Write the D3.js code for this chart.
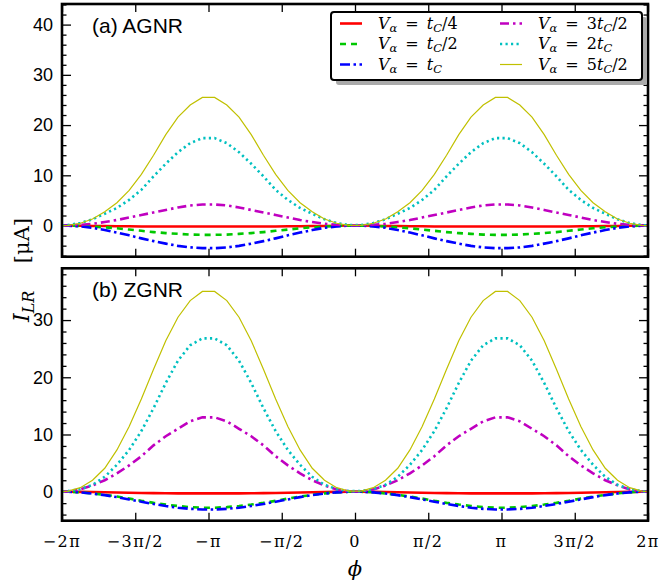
<!DOCTYPE html>
<html>
<head>
<meta charset="utf-8">
<script src="https://cdn.jsdelivr.net/npm/d3@7"></script>
<style>
  body { margin: 0; background: #fff; }
  svg { display: block; }
</style>
</head>
<body>
<div id="chart"></div>
<script>
// phase grid, in units of pi/24
var phiGrid = [-48,
  -47, -45, -43, -41, -39, -37, -35, -33, -31, -29, -27, -25,
  -23, -21, -19, -17, -15, -13, -11, -9, -7, -5, -3, -1,
  1, 3, 5, 7, 9, 11, 13, 15, 17, 19, 21, 23,
  25, 27, 29, 31, 33, 35, 37, 39, 41, 43, 45, 47,
  48];

var xTickValues = [-2, -1.5, -1, -0.5, 0, 0.5, 1, 1.5, 2];
var xTickLabels = ["\u22122\u03c0", "\u22123\u03c0/2", "\u2212\u03c0", "\u2212\u03c0/2", "0", "\u03c0/2", "\u03c0", "3\u03c0/2", "2\u03c0"];
var yTicksA = [0, 10, 20, 30, 40];
var yTicksB = [0, 10, 20, 30];

var seriesCoef = ["", "", "", "3", "2", "5"];
var seriesDen = ["/4", "/2", "", "/2", "", "/2"];

// (a) AGNR, I_LR in uA
var agnrQuarter = [0,
  0, -0.05, -0.1, -0.1, -0.15, -0.15, -0.2, -0.2, -0.2, -0.2, -0.2, -0.2,
  -0.2, -0.2, -0.2, -0.2, -0.2, -0.2, -0.15, -0.15, -0.1, -0.1, -0.05, 0,
  0, -0.05, -0.1, -0.1, -0.15, -0.15, -0.2, -0.2, -0.2, -0.2, -0.2, -0.2,
  -0.2, -0.2, -0.2, -0.2, -0.2, -0.2, -0.15, -0.15, -0.1, -0.1, -0.05, 0,
  0];
var agnrHalf = [0,
  -0.01, -0.07, -0.2, -0.35, -0.55, -0.8, -1.05, -1.3, -1.5, -1.65, -1.8, -1.85,
  -1.85, -1.8, -1.65, -1.5, -1.3, -1.05, -0.8, -0.55, -0.35, -0.2, -0.07, -0.01,
  -0.01, -0.07, -0.2, -0.35, -0.55, -0.8, -1.05, -1.3, -1.5, -1.65, -1.8, -1.85,
  -1.85, -1.8, -1.65, -1.5, -1.3, -1.05, -0.8, -0.55, -0.35, -0.2, -0.07, -0.01,
  0];
var agnrOne = [0,
  -0.02, -0.17, -0.45, -0.9, -1.4, -1.95, -2.55, -3.1, -3.6, -4.05, -4.35, -4.5,
  -4.5, -4.35, -4.05, -3.6, -3.1, -2.55, -1.95, -1.4, -0.9, -0.45, -0.17, -0.02,
  -0.02, -0.17, -0.45, -0.9, -1.4, -1.95, -2.55, -3.1, -3.6, -4.05, -4.35, -4.5,
  -4.5, -4.35, -4.05, -3.6, -3.1, -2.55, -1.95, -1.4, -0.9, -0.45, -0.17, -0.02,
  0];
var agnrThreeHalves = [0,
  0.03, 0.15, 0.35, 0.7, 1.1, 1.6, 2.1, 2.6, 3.1, 3.6, 4.0, 4.2,
  4.2, 4.0, 3.6, 3.1, 2.6, 2.1, 1.6, 1.1, 0.7, 0.35, 0.15, 0.03,
  0.03, 0.15, 0.35, 0.7, 1.1, 1.6, 2.1, 2.6, 3.1, 3.6, 4.0, 4.2,
  4.2, 4.0, 3.6, 3.1, 2.6, 2.1, 1.6, 1.1, 0.7, 0.35, 0.15, 0.03,
  0];
var agnrTwo = [0,
  0.1, 0.5, 1.25, 2.35, 3.5, 5.1, 7.1, 9.8, 12.3, 14.6, 16.4, 17.4,
  17.4, 16.4, 14.6, 12.3, 9.8, 7.1, 5.1, 3.5, 2.35, 1.25, 0.5, 0.1,
  0.1, 0.5, 1.25, 2.35, 3.5, 5.1, 7.1, 9.8, 12.3, 14.6, 16.4, 17.4,
  17.4, 16.4, 14.6, 12.3, 9.8, 7.1, 5.1, 3.5, 2.35, 1.25, 0.5, 0.1,
  0];
var agnrFiveHalves = [0,
  0.05, 0.45, 1.3, 2.75, 4.55, 7.0, 10.2, 14.0, 18.1, 21.6, 24.0, 25.5,
  25.5, 24.0, 21.6, 18.1, 14.0, 10.2, 7.0, 4.55, 2.75, 1.3, 0.45, 0.05,
  0.05, 0.45, 1.3, 2.75, 4.55, 7.0, 10.2, 14.0, 18.1, 21.6, 24.0, 25.5,
  25.5, 24.0, 21.6, 18.1, 14.0, 10.2, 7.0, 4.55, 2.75, 1.3, 0.45, 0.05,
  0];

// (b) ZGNR
var zgnrQuarter = [0,
  0, -0.03, -0.06, -0.1, -0.14, -0.18, -0.22, -0.25, -0.28, -0.3, -0.3, -0.3,
  -0.3, -0.3, -0.3, -0.28, -0.25, -0.22, -0.18, -0.14, -0.1, -0.06, -0.03, 0,
  0, -0.03, -0.06, -0.1, -0.14, -0.18, -0.22, -0.25, -0.28, -0.3, -0.3, -0.3,
  -0.3, -0.3, -0.3, -0.28, -0.25, -0.22, -0.18, -0.14, -0.1, -0.06, -0.03, 0,
  0];
var zgnrHalf = [0,
  -0.01, -0.1, -0.3, -0.55, -0.85, -1.2, -1.6, -1.95, -2.25, -2.5, -2.7, -2.8,
  -2.8, -2.7, -2.5, -2.25, -1.95, -1.6, -1.2, -0.85, -0.55, -0.3, -0.1, -0.01,
  -0.01, -0.1, -0.3, -0.55, -0.85, -1.2, -1.6, -1.95, -2.25, -2.5, -2.7, -2.8,
  -2.8, -2.7, -2.5, -2.25, -1.95, -1.6, -1.2, -0.85, -0.55, -0.3, -0.1, -0.01,
  0];
var zgnrOne = [0,
  -0.01, -0.12, -0.32, -0.6, -0.95, -1.35, -1.75, -2.15, -2.5, -2.8, -3.0, -3.1,
  -3.1, -3.0, -2.8, -2.5, -2.15, -1.75, -1.35, -0.95, -0.6, -0.32, -0.12, -0.01,
  -0.01, -0.12, -0.32, -0.6, -0.95, -1.35, -1.75, -2.15, -2.5, -2.8, -3.0, -3.1,
  -3.1, -3.0, -2.8, -2.5, -2.15, -1.75, -1.35, -0.95, -0.6, -0.32, -0.12, -0.01,
  0];
var zgnrThreeHalves = [0,
  0.05, 0.4, 1.1, 2.0, 3.2, 4.6, 6.2, 8.1, 9.7, 11.0, 12.3, 13.0,
  13.0, 12.3, 11.0, 9.7, 8.1, 6.2, 4.6, 3.2, 2.0, 1.1, 0.4, 0.05,
  0.05, 0.4, 1.1, 2.0, 3.2, 4.6, 6.2, 8.1, 9.7, 11.0, 12.3, 13.0,
  13.0, 12.3, 11.0, 9.7, 8.1, 6.2, 4.6, 3.2, 2.0, 1.1, 0.4, 0.05,
  0];
var zgnrTwo = [0,
  0.1, 0.45, 1.2, 2.6, 4.7, 7.3, 10.6, 14.6, 19.0, 22.9, 25.6, 26.8,
  26.8, 25.6, 22.9, 19.0, 14.6, 10.6, 7.3, 4.7, 2.6, 1.2, 0.45, 0.1,
  0.1, 0.45, 1.2, 2.6, 4.7, 7.3, 10.6, 14.6, 19.0, 22.9, 25.6, 26.8,
  26.8, 25.6, 22.9, 19.0, 14.6, 10.6, 7.3, 4.7, 2.6, 1.2, 0.45, 0.1,
  0];
var zgnrFiveHalves = [0,
  0.1, 0.7, 2.0, 4.1, 7.3, 11.4, 16.2, 21.4, 26.4, 30.5, 33.4, 35.0,
  35.0, 33.4, 30.5, 26.4, 21.4, 16.2, 11.4, 7.3, 4.1, 2.0, 0.7, 0.1,
  0.1, 0.7, 2.0, 4.1, 7.3, 11.4, 16.2, 21.4, 26.4, 30.5, 33.4, 35.0,
  35.0, 33.4, 30.5, 26.4, 21.4, 16.2, 11.4, 7.3, 4.1, 2.0, 0.7, 0.1,
  0];

var lineStyles = [
  { color: "#ff0000", width: 2.6, dash: null },
  { color: "#00c800", width: 2.6, dash: "6,5" },
  { color: "#0000ff", width: 2.6, dash: "10,3.5,2.5,3.5" },
  { color: "#c000c0", width: 2.6, dash: "9,4,2.5,4" },
  { color: "#00c0c0", width: 2.6, dash: "2.2,3.3" },
  { color: "#c0c000", width: 1.2, dash: null },
];

var svgWidth = 660;
var svgHeight = 586;
var plotLeft = 62;
var plotRight = 648;
var mathFont = "'DejaVu Serif', 'Liberation Serif', serif";
var sansFont = "'Liberation Sans', Arial, sans-serif";

var svg = d3.select("#chart")
  .append("svg")
  .attr("width", svgWidth)
  .attr("height", svgHeight);

var xScale = d3.scaleLinear().domain([-2, 2]).range([plotLeft, plotRight]);

var panels = [
  {
    id: "agnr", title: "(a) AGNR", top: 4, bottom: 256.7, domain: [-6.2, 44.1],
    majors: yTicksA, series: [agnrQuarter, agnrHalf, agnrOne, agnrThreeHalves, agnrTwo, agnrFiveHalves],
    xLabels: false,
  },
  {
    id: "zgnr", title: "(b) ZGNR", top: 268.3, bottom: 520.7, domain: [-5.07, 39.05],
    majors: yTicksB, series: [zgnrQuarter, zgnrHalf, zgnrOne, zgnrThreeHalves, zgnrTwo, zgnrFiveHalves],
    xLabels: true,
  },
];

panels.forEach(function (p) {
  drawPanel(p);
});

function drawPanel(p) {
  var yScale = d3.scaleLinear().domain(p.domain).range([p.bottom, p.top]);
  var g = svg.append("g").attr("id", p.id);

  g.append("clipPath")
    .attr("id", "clip-" + p.id)
    .append("rect")
    .attr("x", plotLeft)
    .attr("y", p.top)
    .attr("width", plotRight - plotLeft)
    .attr("height", p.bottom - p.top);

  var minors = d3.range(Math.ceil(p.domain[0] / 2) * 2, p.domain[1], 2).filter(function (v) {
    return v % 10 !== 0;
  });

  // inward ticks on all four sides
  var tickGroups = [
    { axis: d3.axisLeft(yScale).tickValues(p.majors).tickSize(-9).tickPadding(9), tr: "translate(" + plotLeft + ",0)", labels: true },
    { axis: d3.axisLeft(yScale).tickValues(minors).tickSize(-4.5).tickFormat(""), tr: "translate(" + plotLeft + ",0)" },
    { axis: d3.axisRight(yScale).tickValues(p.majors).tickSize(-9).tickFormat(""), tr: "translate(" + plotRight + ",0)" },
    { axis: d3.axisRight(yScale).tickValues(minors).tickSize(-4.5).tickFormat(""), tr: "translate(" + plotRight + ",0)" },
    { axis: d3.axisTop(xScale).tickValues(xTickValues).tickSize(-8).tickFormat(""), tr: "translate(0," + p.top + ")" },
    { axis: d3.axisBottom(xScale).tickValues(xTickValues).tickSize(-8).tickFormat(""), tr: "translate(0," + p.bottom + ")" },
  ];
  tickGroups.forEach(function (t) {
    var ag = g.append("g").attr("transform", t.tr).call(t.axis);
    ag.select(".domain").remove();
    ag.selectAll("line").attr("stroke", "#000").attr("stroke-width", 1.3);
    if (t.labels) {
      ag.selectAll("text")
        .attr("fill", "#000")
        .style("font-family", sansFont)
        .style("font-size", "18px");
    }
  });

  var line = d3.line()
    .x(function (d, i) { return xScale(phiGrid[i] / 24); })
    .y(function (d) { return yScale(d); });

  var curves = g.append("g").attr("clip-path", "url(#clip-" + p.id + ")");
  p.series.forEach(function (values, k) {
    var st = lineStyles[k];
    curves.append("path")
      .datum(values)
      .attr("d", line)
      .attr("fill", "none")
      .attr("stroke", st.color)
      .attr("stroke-width", st.width)
      .attr("stroke-dasharray", st.dash);
  });

  g.append("rect")
    .attr("x", plotLeft)
    .attr("y", p.top)
    .attr("width", plotRight - plotLeft)
    .attr("height", p.bottom - p.top)
    .attr("fill", "none")
    .attr("stroke", "#000")
    .attr("stroke-width", 2.6);

  g.append("text")
    .attr("x", 92)
    .attr("y", p.top + 29)
    .style("font-family", sansFont)
    .style("font-size", "21px")
    .text(p.title);

  if (p.xLabels) {
    g.selectAll(".xlab")
      .data(xTickValues)
      .enter()
      .append("text")
      .attr("class", "xlab")
      .attr("x", function (d) { return xScale(d); })
      .attr("y", p.bottom + 26)
      .attr("text-anchor", "middle")
      .style("font-family", mathFont)
      .style("font-size", "16px")
      .style("letter-spacing", "1.5px")
      .text(function (d, i) { return xTickLabels[i]; });
  }
}

// axis titles
svg.append("text")
  .attr("x", (plotLeft + plotRight) / 2)
  .attr("y", 576)
  .attr("text-anchor", "middle")
  .style("font-family", mathFont)
  .style("font-size", "21px")
  .style("font-style", "italic")
  .text("\u03d5");

var yTitle = svg.append("text")
  .attr("transform", "translate(29,322) rotate(-90)")
  .attr("text-anchor", "start")
  .style("font-family", mathFont)
  .style("font-size", "22px");
yTitle.append("tspan").style("font-style", "italic").text("I");
yTitle.append("tspan").style("font-style", "italic").style("font-size", "16px").attr("dy", 5).text("LR");

svg.append("text")
  .attr("transform", "translate(29,218) rotate(-90)")
  .attr("text-anchor", "end")
  .style("font-family", mathFont)
  .style("font-size", "21px")
  .text("[\u03bcA]");

// legend
var legendG = svg.append("g").attr("id", "legend");
legendG.append("rect")
  .attr("x", 336).attr("y", 17).attr("width", 311).attr("height", 68)
  .attr("rx", 3).attr("fill", "#aaaaaa");
legendG.append("rect")
  .attr("x", 331).attr("y", 12).attr("width", 311).attr("height", 68)
  .attr("rx", 3).attr("fill", "#fff").attr("stroke", "#000").attr("stroke-width", 2);

lineStyles.forEach(function (st, k) {
  var col = Math.floor(k / 3);
  var row = k % 3;
  var ly = 23.5 + row * 20.5;
  var x0 = col === 0 ? 340 : 500;
  legendG.append("line")
    .attr("x1", x0).attr("x2", x0 + 22)
    .attr("y1", ly).attr("y2", ly)
    .attr("stroke", st.color)
    .attr("stroke-width", st.width)
    .attr("stroke-dasharray", st.dash);

  var t = legendG.append("text")
    .attr("x", col === 0 ? 378 : 538)
    .attr("y", ly + 5)
    .style("font-family", mathFont)
    .style("font-size", "16px");
  t.append("tspan").style("font-style", "italic").text("V");
  t.append("tspan").style("font-style", "italic").style("font-size", "11.5px").attr("dy", 3).text("\u03b1");
  t.append("tspan").attr("dy", -3).text("\u2002=\u2002" + seriesCoef[k]);
  t.append("tspan").style("font-style", "italic").text("t");
  t.append("tspan").style("font-style", "italic").style("font-size", "11.5px").attr("dy", 3).text("C");
  t.append("tspan").attr("dy", -3).text(seriesDen[k]);
});
</script>
</body>
</html>
